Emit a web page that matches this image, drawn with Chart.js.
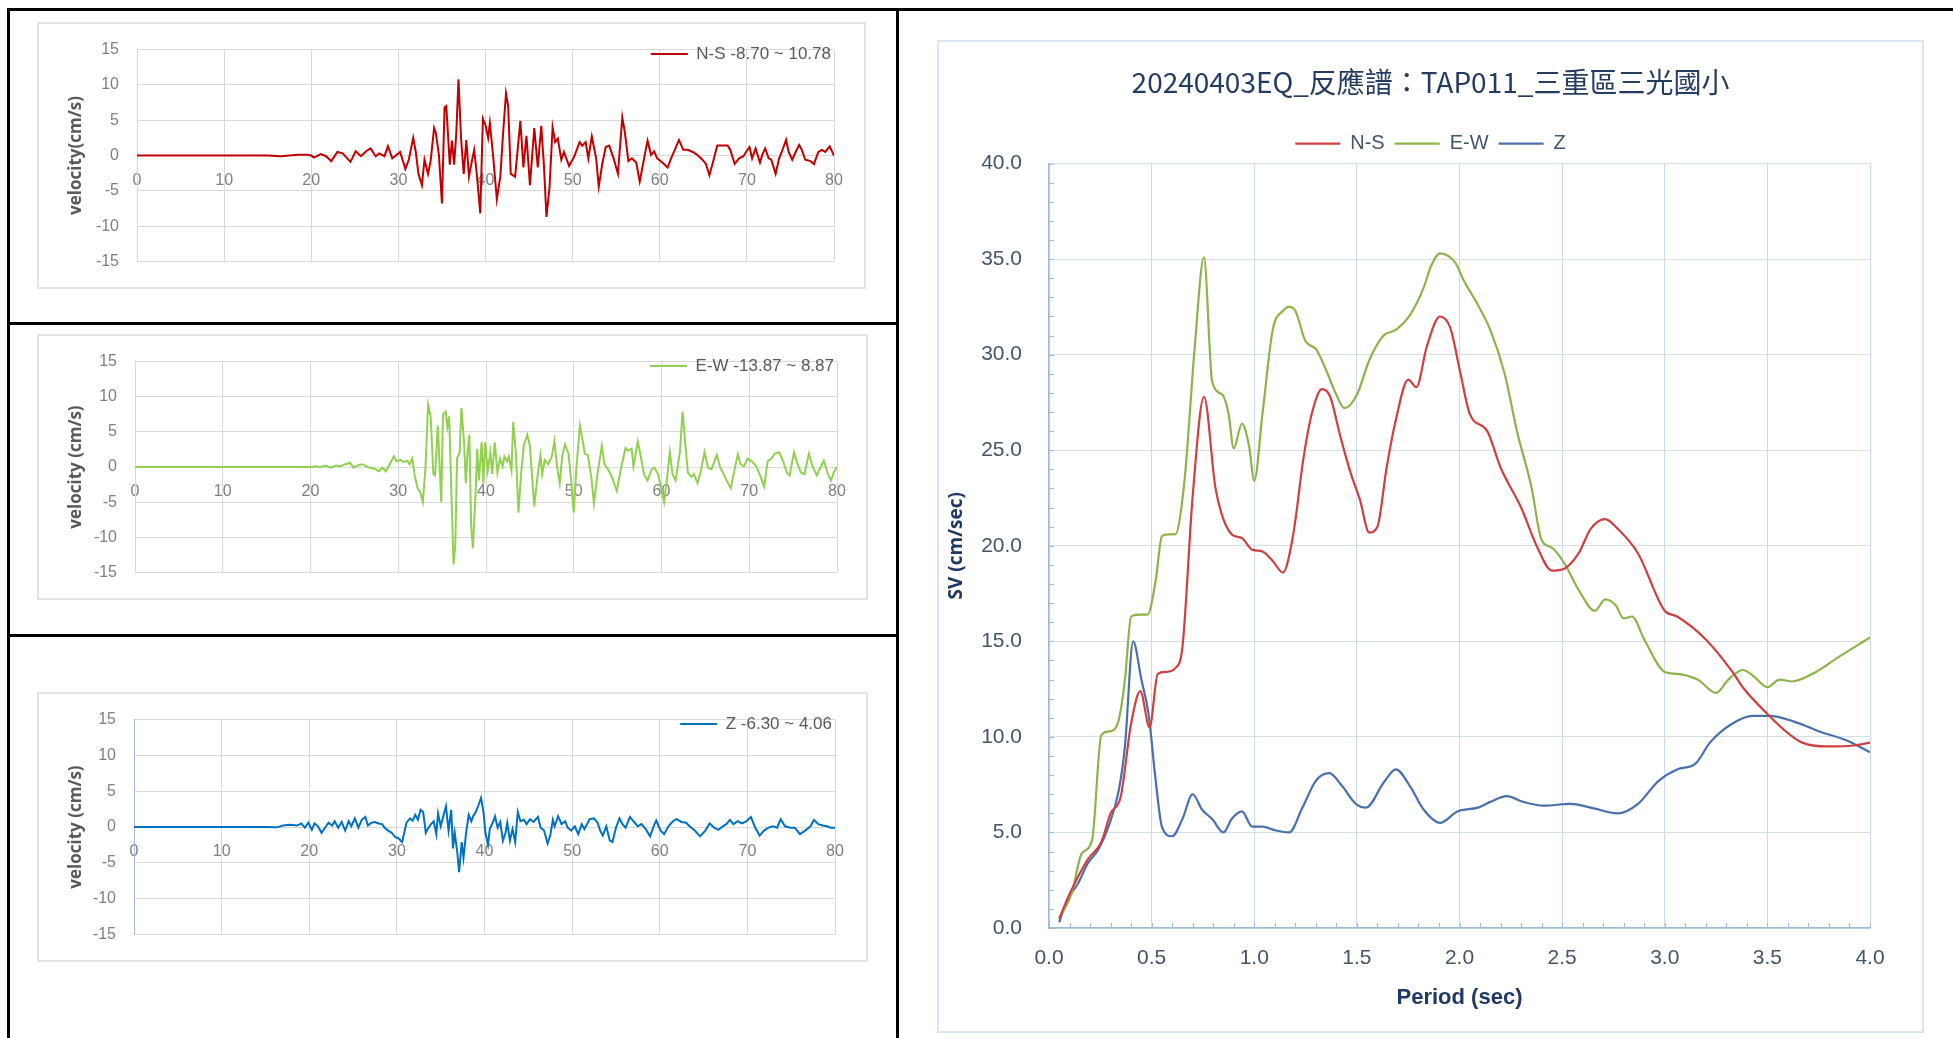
<!DOCTYPE html>
<html>
<head>
<meta charset="utf-8">
<title>20240403EQ TAP011</title>
<script src="https://cdn.jsdelivr.net/npm/chart.js@4.4.1/dist/chart.umd.min.js"></script>
<style>
  body { margin: 0; background: #fff; width: 1953px; height: 1038px; position: relative; overflow: hidden; }
  .rule { position: absolute; background: #000; }
  .card { position: absolute; box-sizing: border-box; border: 2px solid #e3e3e3; pointer-events: none; }
  canvas { position: absolute; }
</style>
</head>
<body>
<!-- table frame -->
<div class="rule" style="left:7px;top:8px;width:1946px;height:3px"></div>
<div class="rule" style="left:7px;top:8px;width:3px;height:1030px"></div>
<div class="rule" style="left:896px;top:8px;width:3px;height:1030px"></div>
<div class="rule" style="left:7px;top:322px;width:892px;height:3px"></div>
<div class="rule" style="left:7px;top:634px;width:892px;height:3px"></div>

<canvas id="nsChart"></canvas>
<canvas id="ewChart"></canvas>
<canvas id="zChart"></canvas>
<canvas id="svChart"></canvas>
<div class="card" style="left:37px;top:22px;width:829px;height:267px"></div>
<div class="card" style="left:37px;top:334px;width:831px;height:266px"></div>
<div class="card" style="left:37px;top:692px;width:831px;height:270px"></div>
<div class="card" style="left:937px;top:40px;width:987px;height:993px;border-color:#dbe5f4"></div>

<script>
// velocity records [time (s), velocity (cm/s)]
const nsTrace = [[0,0],[15,0],[16.5,-0.1],[17.5,0],[18.5,0.1],[19.5,0.1],[20,0],[20.3,-0.3],[21.1,0.2],[21.7,-0.1],[22.3,-0.8],[23.0,0.5],[23.6,0.3],[24.5,-0.9],[25.1,0.6],[25.7,-0.1],[26.3,0.6],[26.8,1.0],[27.4,-0.1],[27.8,0.3],[28.4,-0.1],[28.8,1.3],[29.3,-0.4],[29.7,0],[30.2,0.5],[30.8,-1.9],[31.2,-0.6],[31.7,2.5],[32.0,0.5],[32.3,-2.6],[32.7,-4.2],[33.0,-0.6],[33.4,-2.6],[33.7,-0.8],[34.1,3.9],[34.3,3.2],[34.65,0.1],[35.0,-6.8],[35.3,6.8],[35.5,7.0],[35.9,-1.3],[36.15,2.1],[36.4,-1.3],[36.65,3.2],[36.9,10.78],[37.2,2.3],[37.5,-2.6],[37.8,2.2],[38.1,-3.0],[38.4,-1.0],[38.7,0.8],[39.0,-2.6],[39.4,-8.2],[39.7,5.2],[40.0,4.3],[40.3,2.5],[40.5,4.6],[40.9,-0.4],[41.3,-6.2],[41.7,-3.0],[42.0,2.8],[42.35,8.8],[42.6,7.0],[42.9,-2.6],[43.4,-3.0],[44.0,4.9],[44.35,-1.7],[44.7,2.8],[45.1,-4.2],[45.6,3.9],[46.0,-1.7],[46.4,4.2],[46.7,-1.3],[47.0,-8.70],[47.35,-4.5],[47.7,4.0],[48.0,1.9],[48.3,2.4],[48.7,-0.6],[49.0,0.5],[49.6,-1.5],[50.2,-0.1],[50.8,1.9],[51.1,1.4],[51.5,1.9],[51.8,-0.4],[52.2,2.7],[52.7,-0.4],[53.0,-4.4],[53.4,-1.2],[53.8,1.2],[54.2,1.4],[54.7,-0.4],[55.2,-2.6],[55.7,5.4],[56.0,3.2],[56.4,-0.8],[56.8,-0.4],[57.3,-1.0],[57.7,-3.7],[58.2,-0.4],[58.6,2.1],[59.0,0.1],[59.35,0.6],[59.7,-0.4],[60.3,-1.0],[60.9,-1.7],[61.3,-0.4],[61.8,1.0],[62.2,2.2],[62.7,0.8],[63.2,0.8],[63.8,0.5],[64.3,0.1],[64.9,-0.6],[65.3,-1.2],[65.7,-2.8],[66.1,-1.0],[66.6,1.4],[67.2,1.4],[67.8,1.4],[68.1,0.8],[68.6,-1.2],[69.1,-0.4],[69.6,-0.1],[69.9,0.5],[70.3,1.2],[70.6,-0.4],[71.0,1.0],[71.5,-1.0],[71.8,0.2],[72.1,1.0],[72.5,-0.4],[72.8,-0.6],[73.3,-2.6],[73.7,-0.4],[74.0,0.5],[74.5,2.2],[74.8,0.5],[75.2,-0.6],[75.6,0.5],[76.0,1.5],[76.3,0.8],[76.7,-0.6],[77.3,-0.8],[77.7,-1.2],[78.2,0.5],[78.6,0.8],[79.0,0.5],[79.5,1.3],[80,0]];

const ewTrace = [[0,0],[20,0],[20.6,0.1],[21.1,0],[21.7,0.2],[22.3,-0.1],[22.9,0.2],[23.4,0.1],[24.0,0.4],[24.5,0.6],[24.9,-0.1],[25.5,0.3],[25.9,0.4],[26.5,0],[26.8,-0.1],[27.4,-0.3],[27.8,-0.6],[28.2,-0.1],[28.6,-0.6],[28.9,0.1],[29.5,1.5],[29.8,0.8],[30.3,1.0],[30.6,0.7],[31.0,0.9],[31.3,0.4],[31.6,1.2],[31.9,-1.4],[32.2,-3.0],[32.5,-3.6],[32.8,-5.0],[33.1,-0.1],[33.4,8.87],[33.7,7.1],[34.0,-1.0],[34.2,-1.2],[34.5,5.9],[34.6,3.4],[34.9,-5.0],[35.1,7.5],[35.4,7.9],[35.6,5.7],[35.8,7.2],[36.0,-1.4],[36.3,-13.87],[36.5,-11.2],[36.7,1.2],[37.0,2.1],[37.2,8.4],[37.5,3.5],[37.7,-2.3],[37.9,2.1],[38.1,4.6],[38.3,-8.1],[38.5,-11.6],[38.8,-4.1],[39.0,2.6],[39.2,-1.9],[39.5,3.6],[39.7,-2.3],[39.9,3.5],[40.2,-0.5],[40.5,2.1],[40.7,-1.0],[41.0,3.5],[41.3,-0.8],[41.6,1.2],[41.9,0.1],[42.1,1.5],[42.4,0.8],[42.6,1.5],[42.9,-0.5],[43.1,6.4],[43.4,2.1],[43.7,-6.5],[44.0,-1.0],[44.3,3.0],[44.7,4.6],[45.0,3.0],[45.5,-5.6],[45.9,-1.0],[46.2,1.7],[46.4,-1.0],[46.7,1.0],[47.1,0.4],[47.5,1.5],[47.8,3.7],[48.1,0],[48.4,-2.3],[48.7,1.7],[49.0,3.2],[49.4,1.9],[49.7,-1.9],[50.0,-6.5],[50.3,-0.1],[50.7,5.9],[51.0,3.9],[51.25,1.9],[51.6,1.7],[52.0,-1.4],[52.3,-5.2],[52.7,-1.0],[53.2,3.0],[53.5,0.4],[53.9,-0.3],[54.4,-1.6],[54.9,-3.4],[55.4,-0.1],[55.9,2.7],[56.2,2.3],[56.6,2.6],[56.8,0.1],[57.3,3.6],[57.6,1.7],[58.0,-1.0],[58.4,-1.9],[58.9,-0.3],[59.2,-0.1],[59.6,-1.0],[59.9,-2.7],[60.3,-5.0],[60.6,-1.9],[60.95,2.1],[61.25,-1.0],[61.6,-1.9],[62.1,2.1],[62.4,7.9],[62.7,3.5],[63.0,-0.8],[63.4,-1.4],[63.7,-1.0],[64.1,-2.3],[64.5,-0.5],[64.9,2.1],[65.3,-0.1],[65.7,-0.3],[66.3,1.7],[66.7,-0.1],[67.0,-0.8],[67.4,-1.9],[67.9,-3.0],[68.3,-0.5],[68.7,1.8],[69.0,0.4],[69.4,0.1],[69.8,1.2],[70.3,0.8],[70.8,0.1],[71.3,-1.4],[71.7,-2.8],[72.1,0.8],[72.5,1.2],[72.9,1.9],[73.4,2.1],[73.8,1.0],[74.3,-0.8],[74.6,-1.2],[75.1,2.1],[75.5,0.4],[75.9,-0.8],[76.3,-1.0],[76.8,1.9],[77.2,0.1],[77.7,-1.2],[78.1,-0.1],[78.5,0.9],[78.9,-0.8],[79.3,-1.9],[79.7,-0.6],[80,0]];

const zTrace = [[0,0],[15,0],[16.3,-0.05],[17.0,0.2],[17.8,0.3],[18.6,0.2],[19.1,0.5],[19.5,-0.1],[19.9,0.6],[20.3,-0.4],[20.6,0.5],[21.0,0.1],[21.4,-0.8],[21.8,-0.1],[22.2,0.6],[22.6,0.2],[22.9,0.8],[23.3,-0.1],[23.7,0.7],[24.1,-0.5],[24.5,0.8],[24.8,0.1],[25.2,1.2],[25.6,-0.1],[26.0,1.0],[26.4,1.4],[26.7,0.2],[27.1,0.6],[27.5,0.7],[27.9,0.5],[28.3,0.4],[28.6,-0.1],[29.0,-0.5],[29.4,-0.8],[29.8,-1.4],[30.2,-1.6],[30.6,-2.1],[30.8,-1.0],[31.1,0.6],[31.5,1.2],[31.8,0.9],[32.1,1.7],[32.4,1.0],[32.7,2.4],[33.0,2.1],[33.3,-0.8],[33.6,-0.1],[33.9,0.4],[34.2,0.8],[34.5,-1.0],[34.7,1.9],[35.0,0.1],[35.3,1.5],[35.6,2.9],[35.9,-0.5],[36.2,2.4],[36.4,-3.0],[36.6,-0.8],[36.9,-3.6],[37.1,-6.30],[37.4,-2.1],[37.6,-4.3],[37.9,-0.8],[38.2,1.7],[38.5,0.8],[38.7,1.5],[39.0,2.1],[39.3,3.0],[39.6,4.06],[39.9,1.9],[40.1,-0.8],[40.4,-2.5],[40.6,-0.3],[41.0,0.8],[41.2,1.5],[41.5,-0.1],[41.8,0.7],[42.1,-1.9],[42.4,-0.8],[42.6,0.6],[42.9,-1.9],[43.2,-0.3],[43.5,-2.1],[43.8,2.1],[44.1,0.8],[44.5,1.0],[44.8,0.4],[45.2,1.1],[45.6,0.7],[46.1,1.4],[46.4,-0.1],[46.8,-0.5],[47.2,-2.3],[47.5,-1.2],[47.8,1.0],[48.0,0.1],[48.4,1.5],[48.8,0.4],[49.2,0.8],[49.5,-0.1],[49.9,-0.5],[50.3,0.1],[50.7,-1.0],[51.1,0.4],[51.4,-0.3],[52.0,1.1],[52.5,1.2],[52.9,0.6],[53.2,-0.5],[53.5,-1.2],[53.9,0.1],[54.3,-1.9],[54.6,-2.1],[55.0,-0.1],[55.4,1.2],[55.75,0.4],[56.1,-0.1],[56.6,1.4],[57.0,0.8],[57.5,0.1],[57.9,0.4],[58.4,-0.3],[58.9,-1.3],[59.3,0.1],[59.6,0.9],[60.1,-0.5],[60.5,-1.0],[61.0,0.1],[61.5,0.8],[61.9,1.1],[62.5,0.7],[63.0,0.6],[63.4,0.1],[64.0,-0.5],[64.6,-1.3],[65.2,-0.5],[65.7,0.5],[66.2,-0.1],[66.7,-0.4],[67.2,0.1],[67.6,0.4],[68.0,1.0],[68.4,0.4],[68.9,0.8],[69.4,0.5],[69.9,0.8],[70.4,1.4],[70.9,-0.1],[71.4,-1.2],[71.9,-0.5],[72.4,-0.1],[72.9,0.1],[73.4,-0.1],[73.8,1.1],[74.3,0.1],[74.9,-0.1],[75.4,-0.1],[76.0,-1.0],[76.6,-0.5],[77.2,0.1],[77.6,1.0],[78.1,0.4],[78.6,0.2],[79.1,0.1],[79.5,-0.1],[80,-0.1]];

// response spectrum [period (sec), SV (cm/sec)]
const nsSpectrum = [[0.05,0.5],[0.11,2.0],[0.19,3.6],[0.255,4.5],[0.30,6.0],[0.35,6.9],[0.40,10.7],[0.445,12.4],[0.49,10.5],[0.53,13.3],[0.57,13.4],[0.615,13.6],[0.65,14.7],[0.70,22.6],[0.755,27.8],[0.81,23.1],[0.84,21.7],[0.89,20.6],[0.94,20.4],[0.99,19.8],[1.04,19.7],[1.09,19.2],[1.14,18.6],[1.19,20.6],[1.24,24.6],[1.28,26.9],[1.33,28.2],[1.37,27.8],[1.42,25.7],[1.47,23.8],[1.515,22.4],[1.56,20.7],[1.60,21.0],[1.645,24.1],[1.69,26.6],[1.75,28.7],[1.79,28.3],[1.84,30.4],[1.905,32.0],[1.955,31.4],[2.005,29.0],[2.05,26.9],[2.135,26.0],[2.2,24.1],[2.3,22.0],[2.38,19.9],[2.45,18.7],[2.51,18.8],[2.58,19.6],[2.64,20.9],[2.71,21.4],[2.77,20.9],[2.87,19.6],[3.0,16.6],[3.06,16.3],[3.2,15.1],[3.33,13.4],[3.38,12.6],[3.5,11.2],[3.6,10.2],[3.67,9.7],[3.79,9.5],[3.92,9.55],[4.0,9.7]];

const ewSpectrum = [[0.05,0.5],[0.11,1.8],[0.16,3.9],[0.21,4.6],[0.255,10.1],[0.30,10.3],[0.34,10.9],[0.37,13.0],[0.40,16.3],[0.435,16.4],[0.48,16.4],[0.52,18.2],[0.55,20.5],[0.58,20.6],[0.615,20.6],[0.66,23.4],[0.71,30.4],[0.755,35.1],[0.795,28.6],[0.845,27.9],[0.875,26.9],[0.90,25.1],[0.94,26.4],[0.975,25.2],[1.0,23.4],[1.04,26.9],[1.09,31.3],[1.14,32.3],[1.17,32.5],[1.2,32.3],[1.25,30.7],[1.30,30.3],[1.35,29.2],[1.40,27.9],[1.44,27.2],[1.5,27.9],[1.56,29.7],[1.63,31.0],[1.69,31.3],[1.76,32.1],[1.825,33.5],[1.86,34.6],[1.905,35.3],[1.98,34.8],[2.02,33.9],[2.09,32.6],[2.15,31.3],[2.22,29.0],[2.28,26.0],[2.35,23.1],[2.40,20.3],[2.45,19.9],[2.51,19.1],[2.58,17.7],[2.66,16.6],[2.71,17.2],[2.76,16.9],[2.8,16.2],[2.84,16.3],[2.9,15.1],[3.0,13.4],[3.06,13.3],[3.16,13.0],[3.25,12.3],[3.31,13.0],[3.38,13.5],[3.43,13.2],[3.5,12.6],[3.56,13.0],[3.62,12.9],[3.72,13.3],[3.85,14.2],[4.0,15.2]];

const zSpectrum = [[0.05,0.3],[0.09,1.5],[0.14,2.3],[0.19,3.4],[0.24,4.1],[0.29,5.3],[0.34,7.2],[0.37,9.5],[0.41,15.0],[0.45,13.0],[0.485,11.2],[0.52,7.7],[0.55,5.3],[0.60,4.8],[0.65,5.7],[0.70,7.0],[0.745,6.2],[0.795,5.7],[0.85,5.0],[0.89,5.7],[0.94,6.1],[0.99,5.3],[1.04,5.3],[1.105,5.1],[1.17,5.0],[1.235,6.3],[1.30,7.7],[1.365,8.1],[1.43,7.4],[1.495,6.5],[1.545,6.3],[1.63,7.6],[1.69,8.3],[1.76,7.4],[1.825,6.2],[1.905,5.5],[1.99,6.1],[2.09,6.3],[2.15,6.6],[2.23,6.9],[2.31,6.6],[2.41,6.4],[2.54,6.5],[2.64,6.3],[2.77,6.0],[2.87,6.5],[2.97,7.7],[3.06,8.3],[3.15,8.6],[3.22,9.7],[3.33,10.7],[3.43,11.1],[3.51,11.1],[3.63,10.8],[3.75,10.3],[3.89,9.8],[4.0,9.2]];

const traceLabels = ['N-S -8.70 ~ 10.78', 'E-W -13.87 ~ 8.87', 'Z -6.30 ~ 4.06'];
const traceTitles = ['velocity(cm/s)', 'velocity (cm/s)', 'velocity (cm/s)'];
const componentNames = ['N-S', 'E-W', 'Z'];
const chartTitle = '20240403EQ_反應譜：TAP011_三重區三光國小';

const NARROW = "'Liberation Sans Narrow', 'Liberation Sans', sans-serif";
const toPoints = rows => rows.map(([x, y]) => ({ x, y }));

// small inward tick marks along the value and period axes
const minorTicks = {
  id: 'minorTicks',
  afterDraw(chart, args, opts) {
    const { ctx, chartArea: a, scales: { x, y } } = chart;
    ctx.save();
    ctx.strokeStyle = opts.color;
    ctx.lineWidth = 1;
    ctx.beginPath();
    for (let i = 0; i <= 40; i++) {
      const py = Math.round(y.getPixelForValue(i)) + 0.5;
      ctx.moveTo(a.left, py);
      ctx.lineTo(a.left + 5, py);
    }
    for (let i = 0; i <= 40; i++) {
      const px = Math.round(x.getPixelForValue(i / 10)) + 0.5;
      ctx.moveTo(px, a.bottom);
      ctx.lineTo(px, a.bottom - 5);
    }
    ctx.stroke();
    ctx.restore();
  }
};

// the legend takes no room in the layout; afterwards it is moved onto the plot's top edge
const legendInPlot = {
  id: 'legendInPlot',
  afterLayout(chart) {
    const lg = chart.legend;
    lg.top = chart.chartArea.top - 7;
    lg.height = 30;
    lg.bottom = lg.top + lg.height;
  }
};

function place(canvas, box) {
  canvas.width = box.w;
  canvas.height = box.h;
  canvas.style.left = box.x + 'px';
  canvas.style.top = box.y + 'px';
}

// box = canvas rect, area = wanted plot rect (page pixels)
function velocityChart(id, trace, color, label, yTitle, box, area) {
  const canvas = document.getElementById(id);
  place(canvas, box);
  const tickFont = { family: NARROW, size: 16 };
  new Chart(canvas, {
    type: 'line',
    data: {
      datasets: [{
        label: label,
        data: toPoints(trace),
        borderColor: color,
        backgroundColor: color,
        borderWidth: 2,
        pointRadius: 0,
        tension: 0
      }]
    },
    plugins: [legendInPlot],
    options: {
      responsive: false,
      animation: false,
      layout: {
        padding: {
          left: 0,
          top: area.top - box.y - 1,
          right: box.x + box.w - area.right,
          bottom: box.y + box.h - area.bottom
        }
      },
      plugins: {
        legend: {
          position: 'top',
          align: 'end',
          maxHeight: 1,
          labels: {
            usePointStyle: true,
            pointStyle: 'line',
            pointStyleWidth: 37,
            padding: 3,
            color: '#595959',
            font: { family: NARROW, size: 17 }
          }
        },
        tooltip: { enabled: false }
      },
      scales: {
        x: {
          type: 'linear',
          min: 0,
          max: 80,
          position: { y: 0 },
          afterFit: s => { s.height = 0; },
          ticks: { stepSize: 10, padding: 15, color: '#7f7f7f', font: tickFont },
          grid: { color: '#d9d9d9', drawTicks: false },
          border: { color: '#d9d9d9' }
        },
        y: {
          min: -15,
          max: 15,
          afterFit: s => { s.width = area.left - box.x; },
          ticks: { stepSize: 5, padding: 18, color: '#7f7f7f', font: tickFont },
          grid: { color: '#d9d9d9', drawTicks: false },
          border: { color: id === 'zChart' ? '#a9bcd8' : '#d9d9d9' },
          title: {
            display: true,
            text: yTitle,
            color: '#595959',
            font: { family: "'Open Sans', sans-serif", size: 17, weight: 'bold' },
            padding: { top: 29, bottom: 0 }
          }
        }
      }
    }
  });
}

velocityChart('nsChart', nsTrace, '#c00000', traceLabels[0], traceTitles[0],
  { x: 37, y: 22, w: 829, h: 267 }, { left: 137, top: 42, right: 834, bottom: 267 });
velocityChart('ewChart', ewTrace, '#92d050', traceLabels[1], traceTitles[1],
  { x: 37, y: 334, w: 831, h: 266 }, { left: 135, top: 353, right: 837, bottom: 578 });
velocityChart('zChart', zTrace, '#0070c0', traceLabels[2], traceTitles[2],
  { x: 37, y: 692, w: 831, h: 270 }, { left: 134, top: 715, right: 835, bottom: 939 });

// response spectrum
const svCanvas = document.getElementById('svChart');
place(svCanvas, { x: 937, y: 40, w: 987, h: 993 });
const axisFont = { family: NARROW, size: 21 };
const spectrumColors = ['#cf4040', '#8db34a', '#4a70ab'];
new Chart(svCanvas, {
  type: 'line',
  data: {
    datasets: [nsSpectrum, ewSpectrum, zSpectrum].map((rows, i) => ({
      label: componentNames[i],
      data: toPoints(rows),
      borderColor: spectrumColors[i],
      backgroundColor: spectrumColors[i],
      borderWidth: 2.2,
      pointRadius: 0,
      cubicInterpolationMode: 'monotone'
    }))
  },
  plugins: [minorTicks],
  options: {
    responsive: false,
    animation: false,
    layout: { padding: 0 },
    plugins: {
      title: {
        display: true,
        text: chartTitle,
        color: '#243b62',
        font: { family: "'Noto Sans CJK TC', sans-serif", size: 28, weight: 'normal' },
        padding: { top: 26, bottom: 24 }
      },
      legend: {
        position: 'top',
        align: 'center',
        labels: {
          usePointStyle: true,
          pointStyle: 'line',
          pointStyleWidth: 45,
          padding: 10,
          color: '#44546a',
          font: { family: NARROW, size: 20 }
        }
      },
      tooltip: { enabled: false },
      minorTicks: { color: '#9dbbe0' }
    },
    scales: {
      x: {
        type: 'linear',
        min: 0,
        max: 4,
        afterFit: s => { s.height = 105; },
        ticks: { stepSize: 0.5, padding: 18, color: '#44546a', font: axisFont, callback: v => v.toFixed(1) },
        grid: { color: '#c9daf1', drawTicks: false },
        border: { color: '#9dbbe0', width: 1.5 },
        title: {
          display: true,
          text: 'Period (sec)',
          color: '#1f3864',
          font: { family: NARROW, size: 22, weight: 'bold' },
          padding: { top: 0, bottom: 22 }
        }
      },
      y: {
        min: 0,
        max: 40,
        afterFit: s => { s.width = 112; },
        ticks: { stepSize: 5, padding: 27, color: '#44546a', font: axisFont, callback: v => v.toFixed(1) },
        grid: { color: '#d5dde9', drawTicks: false },
        border: { color: '#9dbbe0', width: 1.5 },
        title: {
          display: true,
          text: 'SV (cm/sec)',
          color: '#1f3864',
          font: { family: "'Open Sans', sans-serif", size: 19, weight: 'bold' },
          padding: { top: 8, bottom: 0 }
        }
      },
      // blank margin on the right so the title stays centred on the whole card
      yRight: {
        position: 'right',
        afterFit: s => { s.width = 54; },
        ticks: { display: false },
        grid: { display: false },
        border: { display: false }
      }
    }
  }
});
</script>
</body>
</html>
